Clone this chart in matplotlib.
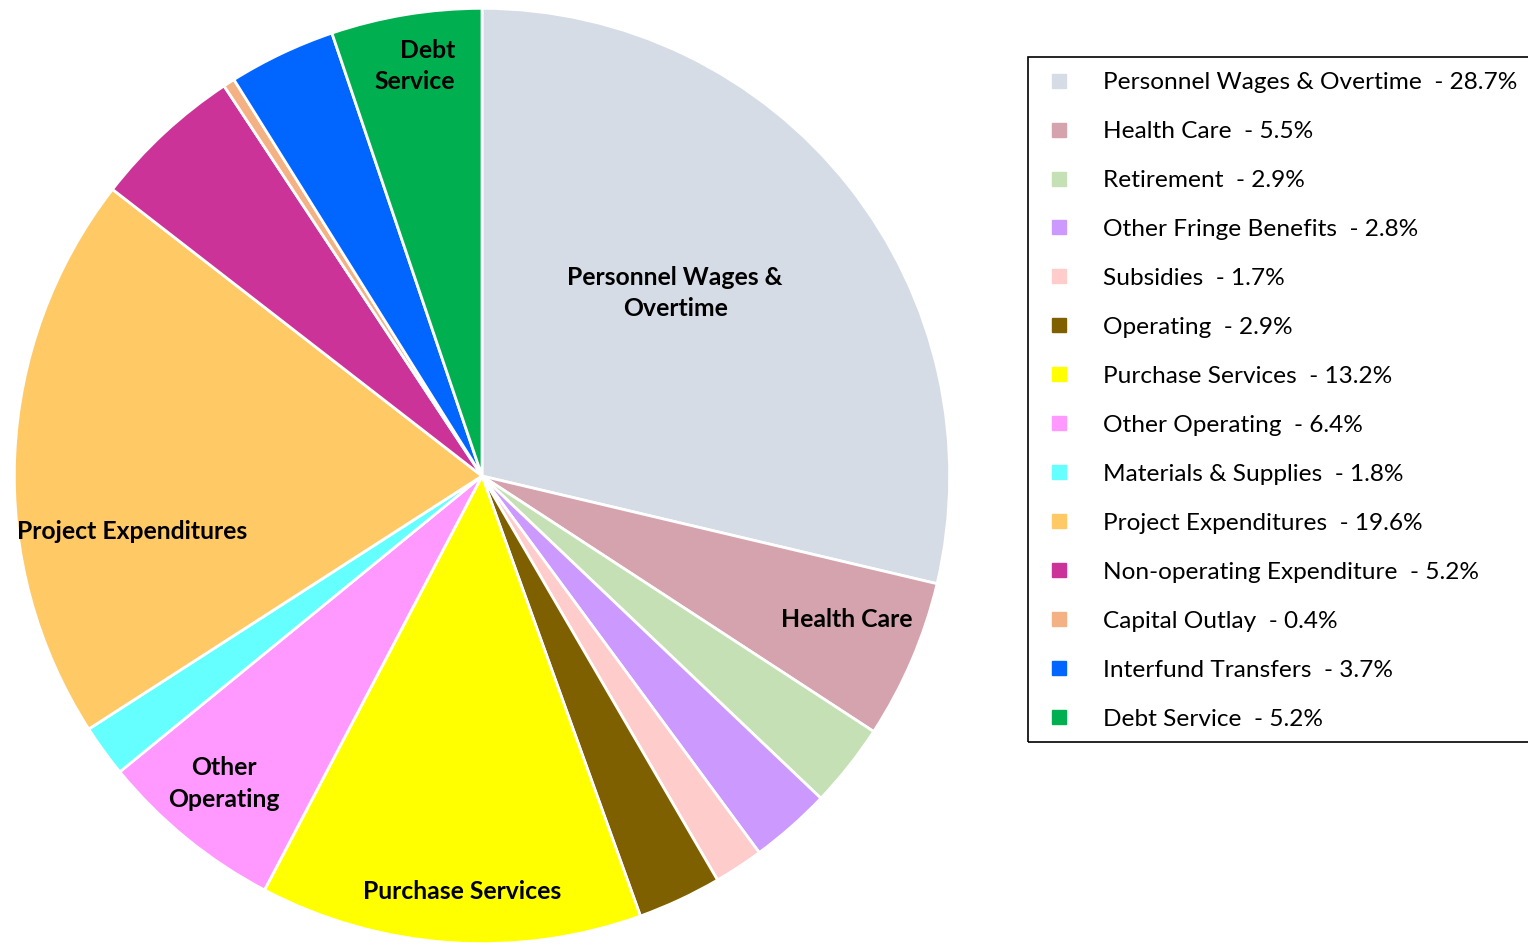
import numpy as np
import matplotlib
matplotlib.use('Agg')
import matplotlib.pyplot as plt
from matplotlib.lines import Line2D
from matplotlib.patches import Rectangle

categories = ['Personnel Wages & Overtime', 'Health Care', 'Retirement', 'Other Fringe Benefits',
              'Subsidies', 'Operating', 'Purchase Services', 'Other Operating',
              'Materials & Supplies', 'Project Expenditures', 'Non-operating Expenditure',
              'Capital Outlay', 'Interfund Transfers', 'Debt Service']
shares = [28.7, 5.5, 2.9, 2.8, 1.7, 2.9, 13.2, 6.4, 1.8, 19.6, 5.2, 0.4, 3.7, 5.2]
colors = ['#D6DCE5', '#D5A3AE', '#C5E0B4', '#CC99FF', '#FFCCCC', '#7F6000', '#FFFF00',
          '#FF99FF', '#66FFFF', '#FFCA66', '#CC3399', '#F4B183', '#0066FF', '#00B050']

# in-slice labels (text, x, y, alignment) in pie units
slice_labels = [
  ('Personnel Wages &\nOvertime', 0.413, 0.391, 'center'),
  ('Health Care', 0.781, -0.306, 'center'),
  ('Purchase Services', -0.043, -0.889, 'center'),
  ('Other\nOperating', -0.553, -0.657, 'center'),
  ('Project Expenditures', -0.749, -0.119, 'center'),
  ('Debt\nService', -0.058, 0.877, 'right'),
]

plt.rcParams['font.family'] = ['Lato', 'DejaVu Sans']
font_size = 17.6

fig = plt.figure(figsize=(15.28, 9.46), dpi=100)
ax = fig.add_axes([12/1528, 0, 940/1528, 940/946])

wedges, _ = ax.pie(shares, colors=colors, startangle=90, counterclock=False, radius=1,
                   wedgeprops=dict(edgecolor='white', linewidth=2))
ax.set_xlim(-1.005, 1.005)
ax.set_ylim(-1.005, 1.005)
ax.set_aspect('equal')

for text, x, y, ha in slice_labels:
  ax.text(x, y, text, ha=ha, va='center', multialignment=ha, fontsize=17.8,
          fontweight='bold', color='black', linespacing=1.45)

# legend box runs off the right edge, as in the original
fig.patches.append(Rectangle((1028/1528, 204/946), 0.4, 685/946, transform=fig.transFigure,
                             facecolor='none', edgecolor='black', linewidth=1.2))

handles = [Line2D([], [], marker='s', linestyle='none', markersize=10, markerfacecolor=c,
                  markeredgecolor=c) for c in colors]
leg_labels = [f'{c}  - {s}%' for c, s in zip(categories, shares)]
leg = fig.legend(handles, leg_labels, loc='upper left', bbox_to_anchor=(1044/1528, 1 - 72/946),
                 fontsize=font_size, frameon=False,
                 labelspacing=1.14, handletextpad=1.22, borderpad=0.0, borderaxespad=0,
                 handlelength=1.2)

fig.savefig('out.png', dpi=100, facecolor='white')
